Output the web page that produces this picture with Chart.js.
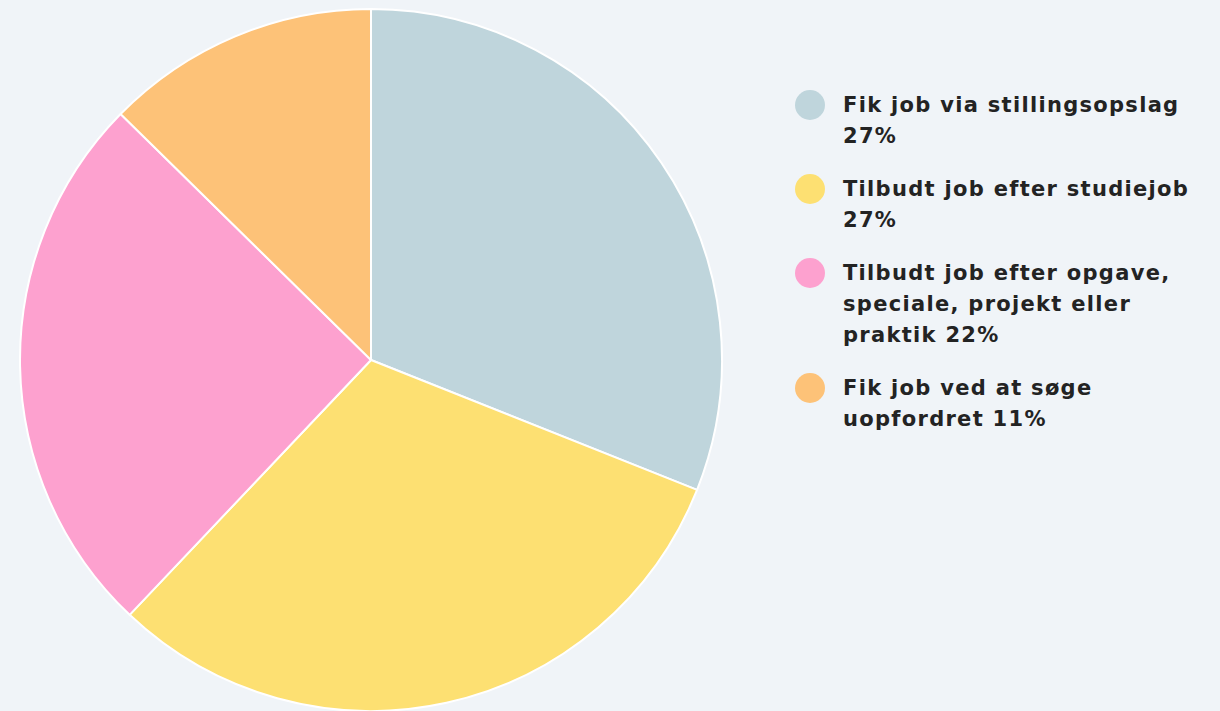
<!DOCTYPE html>
<html>
<head>
<meta charset="utf-8">
<script src="https://cdn.jsdelivr.net/npm/chart.js@4"></script>
<style>
  html, body { margin: 0; padding: 0; background: #f0f4f8; width: 1220px; height: 711px; overflow: hidden; }
  #wrap { position: absolute; left: 19px; top: 8px; width: 704px; height: 704px; }
  #legend { position: absolute; left: 795px; top: 90px; width: 425px; font-family: "DejaVu Sans", sans-serif; font-weight: bold; font-size: 21px; line-height: 31px; letter-spacing: 1.3px; color: #232323; }
  .item { display: flex; align-items: flex-start; margin-bottom: 22px; white-space: nowrap; }
  .dot { width: 30px; height: 30px; border-radius: 50%; flex: none; margin-right: 18px; }
</style>
</head>
<body>
<div id="wrap"><canvas id="pie"></canvas></div>
<div id="legend"></div>
<script>
const labels = [
  "Fik job via stillingsopslag 27%",
  "Tilbudt job efter studiejob 27%",
  "Tilbudt job efter opgave, speciale, projekt eller praktik 22%",
  "Fik job ved at søge uopfordret 11%"
];
const legendLines = [
  ["Fik job via stillingsopslag", "27%"],
  ["Tilbudt job efter studiejob", "27%"],
  ["Tilbudt job efter opgave,", "speciale, projekt eller", "praktik 22%"],
  ["Fik job ved at søge", "uopfordret 11%"]
];
const values = [27, 27, 22, 11];
const colors = ["#bfd5dc", "#fde072", "#fda1cf", "#fdc278"];

const chart = new Chart(document.getElementById("pie"), {
  type: "pie",
  data: {
    labels: labels,
    datasets: [{
      data: values,
      backgroundColor: colors,
      borderColor: "#ffffff",
      borderWidth: 2
    }]
  },
  options: {
    responsive: true,
    maintainAspectRatio: false,
    animation: false,
    layout: { padding: 0 },
    plugins: {
      legend: { display: false },
      tooltip: { enabled: false }
    }
  }
});

// html legend, so the labels can wrap like the original
const legend = document.getElementById("legend");
legendLines.forEach((lines, i) => {
  const item = document.createElement("div");
  item.className = "item";
  const dot = document.createElement("span");
  dot.className = "dot";
  dot.style.background = colors[i];
  const txt = document.createElement("div");
  txt.innerHTML = lines.join("<br>");
  item.appendChild(dot);
  item.appendChild(txt);
  legend.appendChild(item);
});
</script>
</body>
</html>
